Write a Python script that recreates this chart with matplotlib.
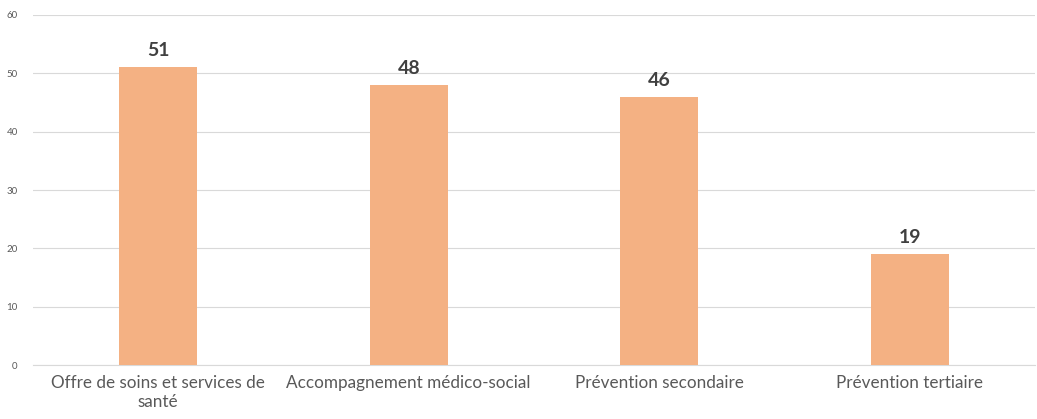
import matplotlib.pyplot as plt

# categories and counts
categories = ['Offre de soins et services de\nsanté', 'Accompagnement médico-social',
              'Prévention secondaire', 'Prévention tertiaire']
counts = [51, 48, 46, 19]
y_ticks = [0, 10, 20, 30, 40, 50, 60]

plt.rcParams['font.family'] = ['Lato', 'DejaVu Sans']

fig = plt.figure(figsize=(10.37, 4.19), dpi=100)
ax = fig.add_axes([33 / 1037, 1 - 365 / 419, 1002 / 1037, 350 / 419])

x = list(range(len(categories)))
bars = ax.bar(x, counts, width=0.31, color='#F4B183', zorder=3)

for b, v in zip(bars, counts):
    ax.text(b.get_x() + b.get_width() / 2, v + 1.4, str(v), ha='center', va='bottom',
            fontsize=14, fontweight='bold', color='#404040')

ax.set_xlim(-0.5, len(categories) - 0.5)
ax.set_ylim(0, 60)
ax.set_yticks(y_ticks)
ax.set_xticks(x)
ax.set_xticklabels(categories, fontsize=12.3, color='#595959', linespacing=1.25)
ax.tick_params(axis='y', labelsize=7, labelcolor='#595959', length=0, pad=11)
ax.tick_params(axis='x', length=0, pad=7)

ax.grid(axis='y', color='#D9D9D9', linewidth=0.8, zorder=0)
for s in ['top', 'right', 'left']:
    ax.spines[s].set_visible(False)
ax.spines['bottom'].set_color('#D9D9D9')
ax.spines['bottom'].set_linewidth(0.8)

fig.savefig('out.png', dpi=100)
